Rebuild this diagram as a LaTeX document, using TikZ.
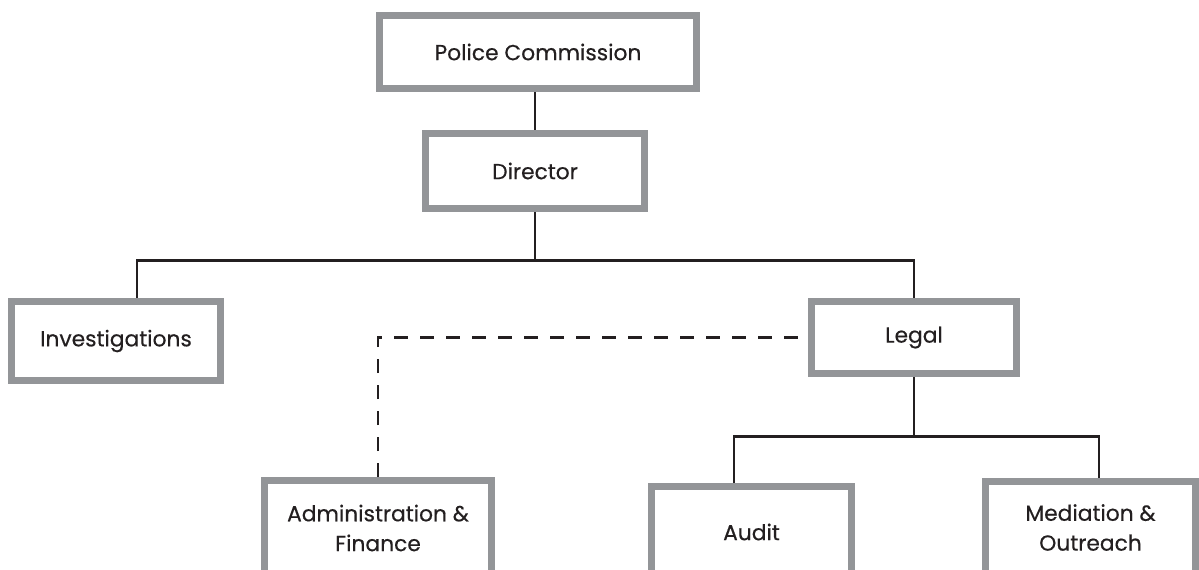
\documentclass[tikz,border=0pt]{standalone}
\usepackage{fontspec}
\setmainfont{Poppins}
\newfontfamily\boxfont{Poppins}[UprightFeatures={FakeBold=0.4}]
\usetikzlibrary{positioning,calc,backgrounds}
\definecolor{frame}{RGB}{147,149,152}
\definecolor{ink}{RGB}{35,31,32}
\tikzset{
  orgbox/.style={draw=frame,line width=3.97pt,fill=white,text=ink,align=center,
    inner sep=0pt,font=\boxfont\fontsize{12.4}{17}\selectfont},
  link/.style={draw=ink,line width=1.3pt},
  soft link/.style={link,dash pattern=on 0.28cm off 0.24cm},
}

\begin{document}
\begin{tikzpicture}[x=0.02cm,y=-0.02cm]
  \clip (0,0) rectangle (1199,569);
  % boxes
  \node[orgbox,minimum width=6.34cm,minimum height=1.46cm] (pc) at (538,52) {Police Commission};
  \node[orgbox,minimum width=4.38cm,minimum height=1.5cm] (dir) at (535,171) {Director};
  \node[orgbox,minimum width=4.18cm,minimum height=1.58cm] (inv) at (116,341) {Investigations};
  \node[orgbox,minimum width=4.1cm,minimum height=1.44cm] (legal) at (914,337.5) {Legal};
  \node[orgbox,minimum width=4.54cm,minimum height=1.9cm] (admin) at (378,528) {Administration \&\\Finance};
  \node[orgbox,minimum width=4cm,minimum height=1.82cm] (audit) at (751.5,532) {Audit};
  \node[orgbox,minimum width=4.2cm,minimum height=1.84cm] (med) at (1090.5,527.5) {Mediation \&\\Outreach};
  % connectors
  \begin{scope}[on background layer]
    \fill[white] (0,0) rectangle (1199,569);
    \draw[link] (pc.south -| dir.north) -- (dir.north);
    \coordinate (hub) at ($(dir.south)+(0,48.5)$);
    \draw[link] (dir.south) -- (hub);
    \draw[link] ([xshift=0.42cm]inv.north) |- (hub) -| (legal.north);
    \coordinate (hub2) at ($(legal.south)+(0,59.5)$);
    \draw[link] (legal.south) -- (hub2);
    \draw[link] ([xshift=-0.35cm]audit.north) |- (hub2) -| ([xshift=0.17cm]med.north);
    \draw[soft link] (admin.north) |- (legal.west);
  \end{scope}
\end{tikzpicture}
\end{document}
